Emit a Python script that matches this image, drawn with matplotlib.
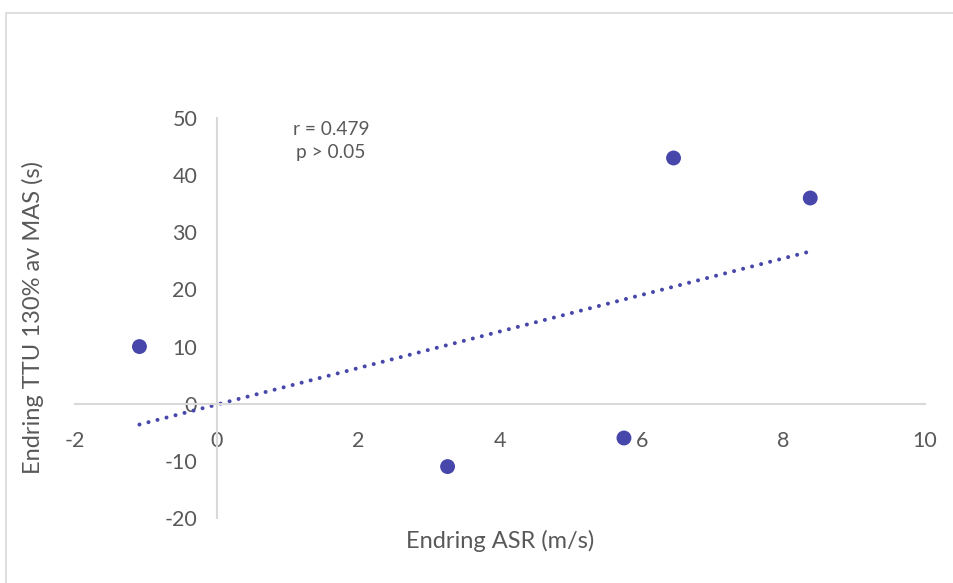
import numpy as np
import matplotlib.pyplot as plt
from matplotlib.patches import Rectangle
from matplotlib.ticker import FuncFormatter

# data
asr_change = [-1.09, 3.26, 5.75, 6.45, 8.38]
ttu_change = [10, -11, -6, 43, 36]
x_ticks = [-2, 0, 2, 4, 6, 8, 10]
y_ticks = [-20, -10, 0, 10, 20, 30, 40, 50]

dot_color = "#4747ab"
axis_color = "#d9d9d9"
text_color = "#595959"

plt.rcParams['font.family'] = ['Lato', 'DejaVu Sans']

fig = plt.figure(figsize=(9.54, 5.83), dpi=100)
ax = fig.add_axes([75 / 954, 1 - 518 / 583, 850 / 954, 400 / 583])

# outer chart border (only top/left are visible in the crop)
fig.patches.append(Rectangle((6 / 954, -0.1), 1.2, 1 - 13 / 583 + 0.1,
                             transform=fig.transFigure, fill=False,
                             edgecolor="#d9d9d9", linewidth=1.2))

ax.scatter(asr_change, ttu_change, s=115, color=dot_color, zorder=3,
           edgecolors="none")

# linear trendline over the data range
slope, icept = np.polyfit(asr_change, ttu_change, 1)
xs = np.array([min(asr_change), max(asr_change)])
ax.plot(xs, slope * xs + icept, linestyle=(0, (0.01, 2.3)), color=dot_color,
        linewidth=2.9, dash_capstyle="round", zorder=2)

ax.set_xlim(-2, 10)
ax.set_ylim(-20, 50)
ax.set_xticks(x_ticks)
ax.set_yticks(y_ticks)
plain = FuncFormatter(lambda v, p: "%d" % v)
ax.xaxis.set_major_formatter(plain)
ax.yaxis.set_major_formatter(plain)

for side in ["top", "right"]:
    ax.spines[side].set_visible(False)
ax.spines["left"].set_position(("data", 0))
ax.spines["bottom"].set_position(("data", 0))
for side in ["left", "bottom"]:
    ax.spines[side].set_color(axis_color)
    ax.spines[side].set_linewidth(1.5)

ax.tick_params(axis="both", length=0, labelsize=15.5, colors=text_color)
ax.tick_params(axis="x", pad=20)
ax.tick_params(axis="y", pad=14)

fig.text(500 / 954, 1 - 541 / 583, "Endring ASR (m/s)", ha="center",
         va="center", fontsize=17, color=text_color)
fig.text(33 / 954, 1 - 318 / 583, "Endring TTU 130% av MAS (s)",
         ha="center", va="center", rotation=90, fontsize=17,
         color=text_color)

fig.text(331 / 954, 1 - 141 / 583, "r = 0.479\np > 0.05", ha="center",
         va="center", fontsize=13.8, color=text_color, linespacing=1.45)

fig.savefig("out.png", dpi=100)
